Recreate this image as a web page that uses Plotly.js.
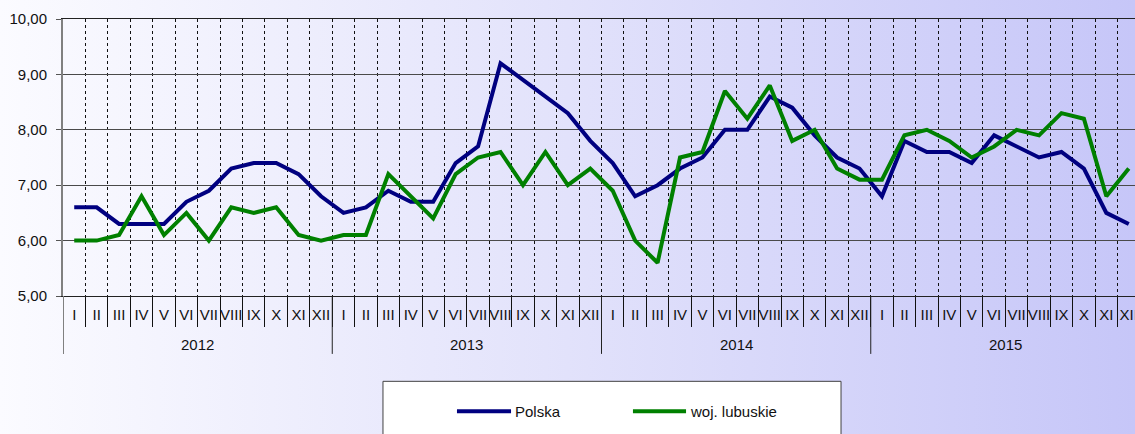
<!DOCTYPE html>
<html>
<head>
<meta charset="utf-8">
<script src="https://cdn.plot.ly/plotly-3.0.1.min.js"></script>
<style>
  html, body { margin: 0; padding: 0; overflow: hidden; width: 1135px; height: 434px; }
  body { background: linear-gradient(to right, #fbfbff 0%, #e2e2fb 50%, #c6c6f8 100%); }
  #chart { width: 1150px; height: 434px; }
</style>
</head>
<body>
<div id="chart"></div>
<script>
// ---- data ----
const months = ['I','II','III','IV','V','VI','VII','VIII','IX','X','XI','XII'];
const years = ['2012','2013','2014','2015'];
const polska = [
  6.6, 6.6, 6.3, 6.3, 6.3, 6.7, 6.9, 7.3, 7.4, 7.4, 7.2, 6.8,
  6.5, 6.6, 6.9, 6.7, 6.7, 7.4, 7.7, 9.2, 8.9, 8.6, 8.3, 7.8,
  7.4, 6.8, 7.0, 7.3, 7.5, 8.0, 8.0, 8.6, 8.4, 7.9, 7.5, 7.3,
  6.8, 7.8, 7.6, 7.6, 7.4, 7.9, 7.7, 7.5, 7.6, 7.3, 6.5, 6.3
];
const lubuskie = [
  6.0, 6.0, 6.1, 6.8, 6.1, 6.5, 6.0, 6.6, 6.5, 6.6, 6.1, 6.0,
  6.1, 6.1, 7.2, 6.8, 6.4, 7.2, 7.5, 7.6, 7.0, 7.6, 7.0, 7.3,
  6.9, 6.0, 5.6, 7.5, 7.6, 8.7, 8.2, 8.8, 7.8, 8.0, 7.3, 7.1,
  7.1, 7.9, 8.0, 7.8, 7.5, 7.7, 8.0, 7.9, 8.3, 8.2, 6.8, 7.3
];
const seriesNames = ['Polska', 'woj. lubuskie'];

// ---- build ----
const nM = months.length;
const n = years.length * nM;
const xs = Array.from({length: n}, (_, i) => i + 0.5);
const tickText = [];
years.forEach(() => months.forEach(m => tickText.push(m)));

const FONT = 'Liberation Sans, Arial, sans-serif';
const blue = '#000080', green = '#008000';

const traces = [
  {x: xs, y: polska, type: 'scatter', mode: 'lines', name: seriesNames[0],
   line: {color: blue, width: 4}, showlegend: false, hoverinfo: 'skip'},
  {x: xs, y: lubuskie, type: 'scatter', mode: 'lines', name: seriesNames[1],
   line: {color: green, width: 4}, showlegend: false, hoverinfo: 'skip'}
];

const shapes = [];
const annotations = [];
// year separators and year labels
for (let k = 0; k <= years.length; k++) {
  shapes.push({type: 'line', xref: 'x', yref: 'paper', x0: k * nM, x1: k * nM,
    y0: 0, y1: -0.209, line: {color: k === 0 ? '#808080' : '#222', width: k === 0 ? 2 : 1}, layer: 'above'});
}
years.forEach((yr, k) => {
  annotations.push({xref: 'x', yref: 'paper', x: k * nM + nM / 2, y: -0.174,
    text: yr, showarrow: false, xanchor: 'center', yanchor: 'middle',
    font: {family: FONT, size: 15, color: '#111'}});
});

// legend box (manual, to match reference)
shapes.push({type: 'rect', xref: 'paper', yref: 'paper', x0: 0.2971, x1: 0.7224,
  y0: -0.308, y1: -0.56, fillcolor: '#ffffff', line: {color: '#404040', width: 1}});
const legendItems = [
  {name: seriesNames[0], color: blue, x0: 0.3658, x1: 0.4160, tx: 0.4180},
  {name: seriesNames[1], color: green, x0: 0.5292, x1: 0.5785, tx: 0.5805}
];
legendItems.forEach(it => {
  shapes.push({type: 'line', xref: 'paper', yref: 'paper', x0: it.x0, x1: it.x1,
    y0: -0.4162, y1: -0.4162, line: {color: it.color, width: 4}});
  annotations.push({xref: 'paper', yref: 'paper', x: it.tx, y: -0.4162,
    text: it.name, showarrow: false, xanchor: 'left', yanchor: 'middle',
    font: {family: FONT, size: 15, color: '#111'}});
});

const layout = {
  width: 1150, height: 434,
  margin: {l: 63, r: 10, t: 19, b: 138},
  paper_bgcolor: 'rgba(0,0,0,0)',
  plot_bgcolor: 'rgba(0,0,0,0)',
  separators: ', ',
  showlegend: false,
  font: {family: FONT, size: 15, color: '#111'},
  xaxis: {
    type: 'linear', range: [0, n], fixedrange: true,
    tickmode: 'array', tickvals: xs, ticktext: tickText, tickangle: 0,
    ticks: 'outside', ticklen: 5, tickcolor: 'rgba(0,0,0,0)',
    showgrid: false, zeroline: false,
    showline: true, linecolor: '#222', linewidth: 1, mirror: true,
    tickfont: {family: FONT, size: 15, color: '#111'},
    minor: {tickmode: 'linear', tick0: 0, dtick: 1, ticks: 'outside', ticklen: 30,
      tickcolor: '#111', tickwidth: 1, showgrid: true, gridcolor: '#111',
      gridwidth: 1, griddash: 'dot'}
  },
  yaxis: {
    range: [5, 10], dtick: 1, tick0: 5, tickformat: '.2f', fixedrange: true,
    showgrid: true, gridcolor: '#4a4a4a', gridwidth: 1, zeroline: false,
    showline: true, linecolor: '#808080', linewidth: 2,
    ticks: 'outside', ticklen: 5, tickcolor: '#555',
    ticklabelstandoff: 6,
    tickfont: {family: FONT, size: 15, color: '#111'}
  },
  shapes: shapes,
  annotations: annotations
};

Plotly.newPlot('chart', traces, layout, {staticPlot: true, displayModeBar: false});
</script>
</body>
</html>
